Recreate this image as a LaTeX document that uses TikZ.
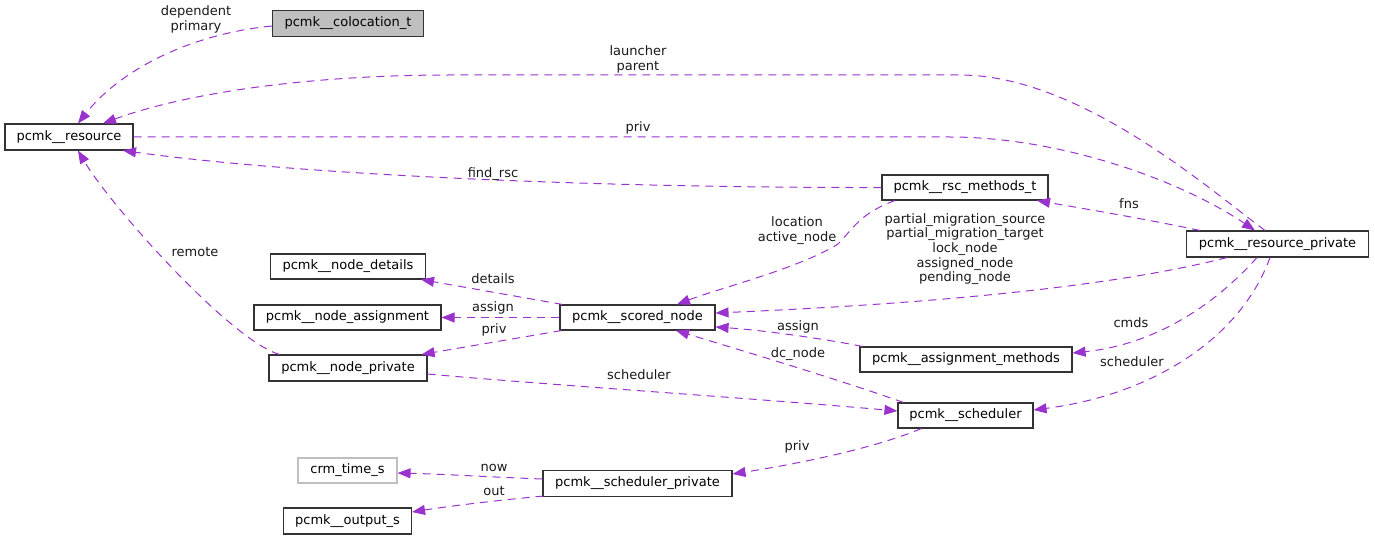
\documentclass[tikz,border=0pt]{standalone}
\usepackage{fontspec}
\setmainfont{DejaVu Sans}
\usetikzlibrary{arrows.meta,calc}
\definecolor{edgec}{HTML}{9A32CD}
\definecolor{grayfill}{HTML}{BFBFBF}
\begin{document}
\begin{tikzpicture}[x=1pt,y=-1pt,
  every node/.style={font=\fontsize{13}{14.6}\selectfont, inner sep=0pt},
  cls/.style={draw=black!80, line width=1.1pt, fill=white, text height=9.5pt, text depth=3pt},
  lbl/.style={align=center, text=black!90},
  edg/.style={draw=edgec, line width=1pt, dash pattern=on 8pt off 6pt, -{Triangle[length=13pt,width=10pt]}}
]
\useasboundingbox (0,0) rectangle (1375,540);

% classes
\node[cls, fill=grayfill, minimum width=151pt, minimum height=26pt] (coloc) at (348,23.5) {pcmk\_\_colocation\_t};
\node[cls, minimum width=128pt, minimum height=26pt] (res) at (69,137) {pcmk\_\_resource};
\node[cls, minimum width=166pt, minimum height=25pt] (rscm) at (965,187.5) {pcmk\_\_rsc\_methods\_t};
\node[cls, minimum width=182pt, minimum height=26pt] (rp) at (1277.5,244) {pcmk\_\_resource\_private};
\node[cls, minimum width=155pt, minimum height=25pt] (nd) at (348,266.5) {pcmk\_\_node\_details};
\node[cls, minimum width=187pt, minimum height=25pt] (na) at (347.5,317.5) {pcmk\_\_node\_assignment};
\node[cls, minimum width=155pt, minimum height=25pt] (sn) at (637.5,317.5) {pcmk\_\_scored\_node};
\node[cls, minimum width=158pt, minimum height=26pt] (np) at (348,368) {pcmk\_\_node\_private};
\node[cls, minimum width=212pt, minimum height=25pt] (am) at (966,359.5) {pcmk\_\_assignment\_methods};
\node[cls, minimum width=135pt, minimum height=25pt] (sch) at (965.5,415.5) {pcmk\_\_scheduler};
\node[cls, draw=grayfill, minimum width=99pt, minimum height=25pt] (crm) at (347.5,470.5) {crm\_time\_s};
\node[cls, minimum width=189pt, minimum height=26pt] (sp) at (637.5,483.5) {pcmk\_\_scheduler\_private};
\node[cls, minimum width=128pt, minimum height=26pt] (out) at (347.5,521) {pcmk\_\_output\_s};

% edges
\draw[edg] ($(coloc.west)+(0,2.5)$) .. controls (190,34) and (120,70) .. ($(res.north)+(9,0)$);
\draw[edg] ($(rp.north)+(-12.5,0)$) .. controls (1210,190) and (1080,75) .. (960,75) -- (450,75) .. controls (300,75) and (180,95) .. ($(res.north)+(34,0)$);
\draw[edg] (res.east) -- (950,137) .. controls (1060,137) and (1180,180) .. ($(rp.north)+(-22.5,0)$);
\draw[edg] (rscm.west) .. controls (600,188) and (300,175) .. ($(res.south)+(54,0)$);
\draw[edg] ($(rp.north)+(-77.5,0)$) .. controls (1140,218) and (1080,208) .. ($(rscm.south)+(72,0)$);
\draw[edg] ($(rscm.south)+(-70,0)$) .. controls (860,213) and (852,230) .. (838,244) .. controls (800,268) and (720,288) .. ($(sn.north)+(39.5,0)$);
\draw[edg] ($(rp.south)+(-50.5,0)$) .. controls (1100,290) and (900,305) .. ($(sn.east)+(0,-4.5)$);
\draw[edg] ($(sn.north west)+(3,0)$) -- ($(nd.south east)+(-5,0)$);
\draw[edg] (sn.west) -- (na.east);
\draw[edg] ($(sn.south west)+(2,0)$) -- ($(np.north east)+(-6,0)$);
\draw[edg] ($(np.north west)+(11,0)$) .. controls (230,340) and (110,205) .. ($(res.south)+(9,0)$);
\draw[edg] ($(am.north west)+(3,0)$) .. controls (820,338) and (760,330) .. ($(sn.east)+(0,9.5)$);
\draw[edg] ($(sch.north west)+(6,0)$) .. controls (840,380) and (740,350) .. ($(sn.south)+(38.5,0)$);
\draw[edg] ($(np.east)+(0,6)$) .. controls (550,385) and (750,398) .. ($(sch.west)+(0,-4.5)$);
\draw[edg] ($(rp.south)+(-20.5,0)$) .. controls (1210,310) and (1150,345) .. ($(am.east)+(0,-6.5)$);
\draw[edg] ($(rp.south)+(-7.5,0)$) .. controls (1240,340) and (1150,395) .. ($(sch.east)+(0,-5.5)$);
\draw[edg] ($(sch.south west)+(24,0)$) .. controls (870,450) and (790,465) .. ($(sp.east)+(0,-9.5)$);
\draw[edg] ($(sp.west)+(0,-4.5)$) .. controls (490,477) and (440,474) .. ($(crm.east)+(0,2.5)$);
\draw[edg] ($(sp.south west)+(1,-1)$) .. controls (500,500) and (450,506) .. ($(out.east)+(0,-9)$);

% labels
\node[lbl] (l1) at (196,19.5) {dependent\\primary};
\node[lbl] (l2) at (638,59.5) {launcher\\parent};
\node[lbl] (l3) at (638,128) {priv};
\node[lbl] (l4) at (493,174) {find\_rsc};
\node[lbl] (l5) at (1129,204) {fns};
\node[lbl] (l6) at (797,230.5) {location\\active\_node};
\node[lbl] (l7) at (965,249) {partial\_migration\_source\\partial\_migration\_target\\lock\_node\\assigned\_node\\pending\_node};
\node[lbl] (l8) at (493,279) {details};
\node[lbl] (l9) at (493,308) {assign};
\node[lbl] (l10) at (494,330) {priv};
\node[lbl] (l11) at (195,252) {remote};
\node[lbl] (l12) at (798,327) {assign};
\node[lbl] (l13) at (798,354) {dc\_node};
\node[lbl] (l14) at (639,375) {scheduler};
\node[lbl] (l15) at (1131,323) {cmds};
\node[lbl] (l16) at (1132,362) {scheduler};
\node[lbl] (l17) at (797,447) {priv};
\node[lbl] (l18) at (494,468) {now};
\node[lbl] (l19) at (494,491) {out};
\end{tikzpicture}
\end{document}
